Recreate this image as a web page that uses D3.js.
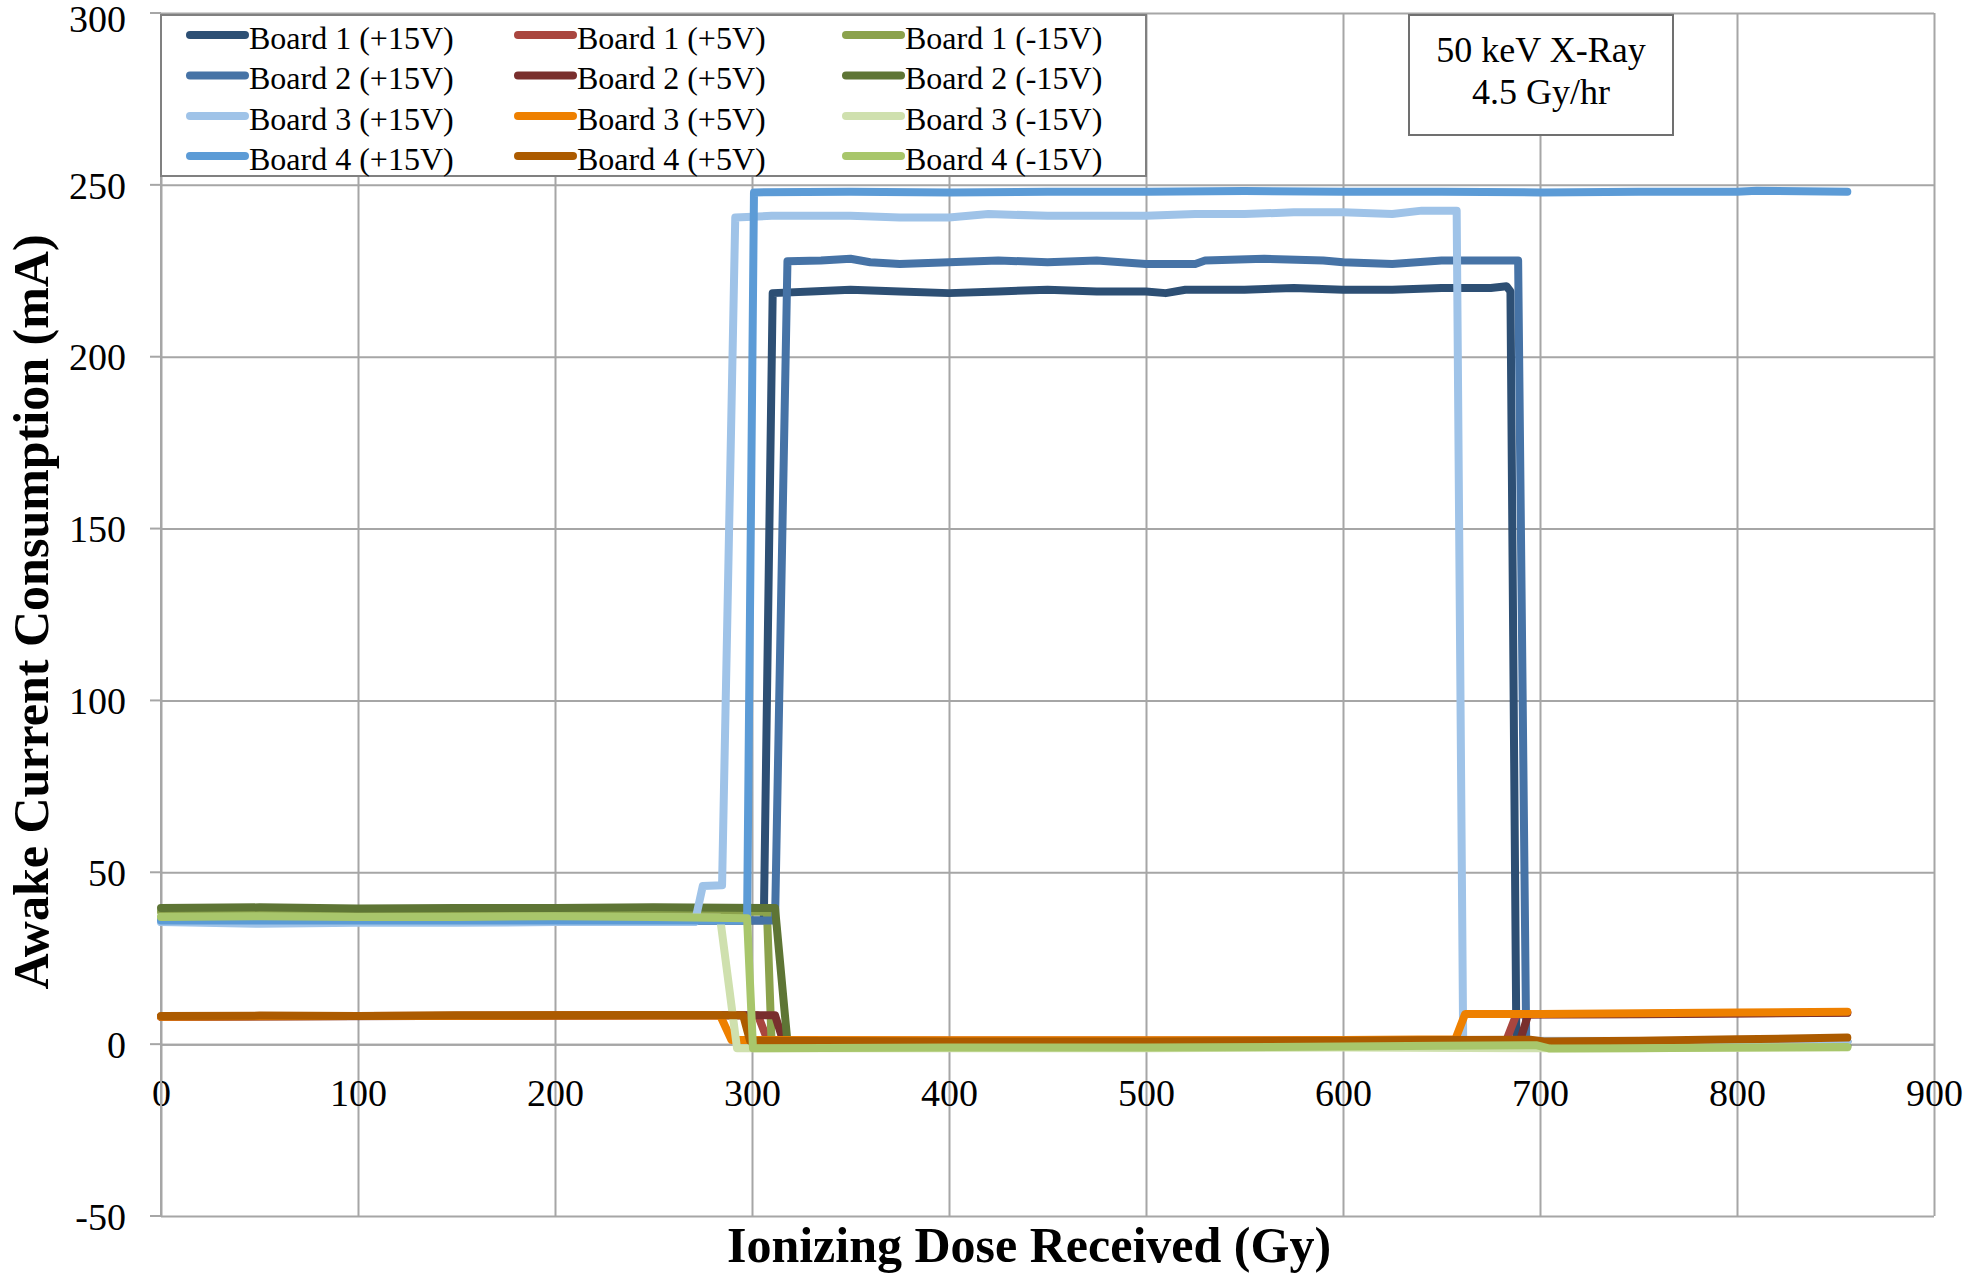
<!DOCTYPE html>
<html><head><meta charset="utf-8">
<script src="https://cdn.jsdelivr.net/npm/d3@7"></script>
<style>body{margin:0;background:#fff}</style>
</head><body><svg id="c" width="1986" height="1273"></svg>
<script>
const doseTicks = [0,100,200,300,400,500,600,700,800,900];
const currentTicks = [-50,0,50,100,150,200,250,300];
const seriesNames = ["Board 1 (+15V)","Board 1 (+5V)","Board 1 (-15V)",
  "Board 2 (+15V)","Board 2 (+5V)","Board 2 (-15V)",
  "Board 3 (+15V)","Board 3 (+5V)","Board 3 (-15V)",
  "Board 4 (+15V)","Board 4 (+5V)","Board 4 (-15V)"];
const seriesColors = ["#2D4F74","#A9463F","#8BA24C",
  "#4673A6","#792F2D","#5E7535",
  "#9FC3E8","#EE8000","#CFE0AE",
  "#5C9BD6","#AC5B00","#A8C66B"];

// [dose (Gy), current (mA)]
const board1Plus15 = [[0,36],[50,35.8],[100,36],[150,35.8],[200,36],[250,36],[306,36],[310.5,218.5],[330,219],[350,219.5],[375,219],[400,218.5],[425,219],[450,219.5],[475,219],[500,219],[510,218.5],[520,219.5],[550,219.5],[575,220],[600,219.5],[625,219.5],[650,220],[675,220],[683,220.5],[685,219],[688,1],[700,0.8],[750,0.8],[800,0.8],[856,0.8]];
const board1Plus5 = [[0,8],[100,8.2],[200,8.3],[285,8.4],[303,8.4],[308,1],[400,1],[500,1],[600,1],[683,1.2],[688,8.6],[700,8.7],[750,8.8],[800,9],[856,9.2]];
const board1Minus15 = [[0,38.5],[100,38.3],[200,38.5],[300,38.5],[307.6,38.5],[310,-0.5],[400,-0.5],[500,-0.5],[600,-0.3],[700,-0.5],[856,-0.8]];
const board2Plus15 = [[0,36],[100,36],[200,36],[300,36],[311.7,36],[318,227.8],[335,228],[350,228.5],[360,227.5],[375,227],[400,227.5],[425,228],[450,227.5],[475,228],[500,227],[525,227],[530,228],[560,228.5],[590,228],[600,227.5],[625,227],[650,228],[675,228],[688.9,228],[693,1],[856,0.8]];
const board2Plus5 = [[0,8],[200,8.3],[311.7,8.4],[315.8,1],[500,1],[690,1.2],[694,8.6],[750,8.7],[856,9.1]];
const board2Minus15 = [[0,39.6],[50,39.8],[100,39.5],[150,39.6],[200,39.6],[250,39.8],[311.7,39.6],[318,0.5],[400,0],[500,0],[600,0],[700,-0.3],[856,-0.5]];
const board3Plus15 = [[0,35.5],[50,35],[100,35.3],[150,35.3],[200,35.5],[250,35.5],[271,35.5],[275,46],[284.8,46.2],[291.5,240.5],[310,241],[350,241],[375,240.5],[400,240.5],[420,241.5],[450,241],[500,241],[525,241.5],[550,241.5],[575,242],[600,242],[625,241.5],[640,242.5],[657.7,242.5],[661,1],[856,0.8]];
const board3Plus5 = [[0,8],[100,8.2],[200,8.3],[283.8,8.4],[289.6,1.2],[400,1.1],[500,1.1],[600,1.2],[657,1.4],[662,8.8],[700,8.8],[750,9],[800,9.2],[856,9.4]];
const board3Minus15 = [[0,37],[100,36.8],[200,37],[283.8,36.8],[292.4,-1.2],[400,-1.2],[500,-1.2],[600,-1],[700,-1.2],[856,-1]];
const board4Plus15 = [[0,36],[100,36],[200,36],[297.5,36],[301,247.8],[350,248],[400,247.8],[450,248],[500,248],[550,248.2],[600,248],[650,248],[700,247.8],[750,248],[800,248],[810,248.3],[856,248]];
const board4Plus5 = [[0,8.2],[50,8.3],[100,8.2],[150,8.4],[200,8.4],[250,8.5],[295.5,8.4],[299,1],[400,0.8],[500,0.8],[600,1],[650,1.2],[695,1.3],[702,0.8],[750,1],[800,1.4],[856,1.9]];
const board4Minus15 = [[0,37],[50,37.2],[100,37],[150,37],[200,37.2],[250,37],[297.5,36.6],[300.5,-1.2],[400,-1],[500,-1],[600,-0.7],[650,-0.5],[698,-0.3],[705,-1.3],[750,-1.2],[800,-1],[856,-0.8]];

const seriesData = [board1Plus15, board1Plus5, board1Minus15,
  board2Plus15, board2Plus5, board2Minus15,
  board3Plus15, board3Plus5, board3Minus15,
  board4Plus15, board4Plus5, board4Minus15];

const svg = d3.select("#c");
svg.append("rect").attr("width",1986).attr("height",1273).attr("fill","#fff");
const L = 161, R = 1934, T = 13, B = 1216;
const x = d3.scaleLinear().domain([0,900]).range([L,R]);
const y = d3.scaleLinear().domain([-50,300]).range([B,T]);
const gridColor = "#A6A6A6";
const serif = "'Liberation Serif', 'Times New Roman', serif";
const plain = d => String(d);

// horizontal gridlines + y labels
const gy = svg.append("g").attr("transform",`translate(${L},0)`)
  .call(d3.axisLeft(y).tickValues(currentTicks).tickSizeInner(-(R-L)).tickSizeOuter(0).tickPadding(35).tickFormat(plain));
gy.select(".domain").remove();
gy.selectAll("line").attr("stroke",gridColor).attr("stroke-width",2);
gy.selectAll("text").attr("font-family",serif).attr("font-size",38).attr("fill","#000")
  .attr("y",d => d === 300 ? 6 : 1);
// y tick marks
svg.append("g").selectAll("line").data(currentTicks).join("line")
  .attr("x1",L-11).attr("x2",L).attr("y1",d=>y(d)).attr("y2",d=>y(d))
  .attr("stroke",gridColor).attr("stroke-width",2);

// vertical gridlines
const gx = svg.append("g").attr("transform",`translate(0,${B})`)
  .call(d3.axisBottom(x).tickValues(doseTicks).tickSizeInner(-(B-T)).tickSizeOuter(0).tickFormat(""));
gx.select(".domain").remove();
gx.selectAll("line").attr("stroke",gridColor).attr("stroke-width",2);
// x labels below the zero line
const gl = svg.append("g").attr("transform",`translate(0,${y(0)})`)
  .call(d3.axisBottom(x).tickValues(doseTicks).tickSize(0).tickPadding(0).tickFormat(plain));
gl.select(".domain").attr("stroke",gridColor).attr("stroke-width",2);
gl.selectAll("text").attr("font-family",serif).attr("font-size",38).attr("fill","#000")
  .attr("dy",null).attr("y",1106 - y(0));
// left axis line
svg.append("line").attr("x1",L).attr("x2",L).attr("y1",T).attr("y2",B).attr("stroke",gridColor).attr("stroke-width",2);

// series
const line = d3.line().x(d=>x(d[0])).y(d=>y(d[1]));
svg.append("g").selectAll("path").data(seriesData).join("path")
  .attr("d",line).attr("fill","none")
  .attr("stroke",(d,i)=>seriesColors[i]).attr("stroke-width",8)
  .attr("stroke-linejoin","round").attr("stroke-linecap","round");

// legend
const lg = svg.append("g");
lg.append("rect").attr("x",161).attr("y",15).attr("width",985).attr("height",161)
  .attr("fill","#fff").attr("stroke","#808080").attr("stroke-width",2);
const colX = [190, 518, 846];
const rowY = [35, 75.5, 116, 156];
seriesNames.forEach((n,i)=>{
  const c = i % 3, r = Math.floor(i/3);
  lg.append("line").attr("x1",colX[c]).attr("x2",colX[c]+55).attr("y1",rowY[r]).attr("y2",rowY[r])
    .attr("stroke",seriesColors[i]).attr("stroke-width",8).attr("stroke-linecap","round");
  lg.append("text").attr("x",colX[c]+59).attr("y",rowY[r]+13.5).text(n)
    .attr("font-family",serif).attr("font-size",32).attr("fill","#000");
});

// annotation box
const ann = svg.append("g");
ann.append("rect").attr("x",1409).attr("y",15).attr("width",264).attr("height",120)
  .attr("fill","#fff").attr("stroke","#707070").attr("stroke-width",2);
ann.append("text").attr("x",1541).attr("y",62).attr("text-anchor","middle").text("50 keV X-Ray")
  .attr("font-family",serif).attr("font-size",36);
ann.append("text").attr("x",1541).attr("y",104).attr("text-anchor","middle").text("4.5 Gy/hr")
  .attr("font-family",serif).attr("font-size",36);

// axis titles
svg.append("text").attr("x",1029).attr("y",1262).attr("text-anchor","middle")
  .attr("font-family",serif).attr("font-weight","bold").attr("font-size",50)
  .text("Ionizing Dose Received (Gy)");
svg.append("text").attr("transform","translate(48,612) rotate(-90)").attr("text-anchor","middle")
  .attr("font-family",serif).attr("font-weight","bold").attr("font-size",50)
  .text("Awake Current Consumption (mA)");
</script></body></html>
